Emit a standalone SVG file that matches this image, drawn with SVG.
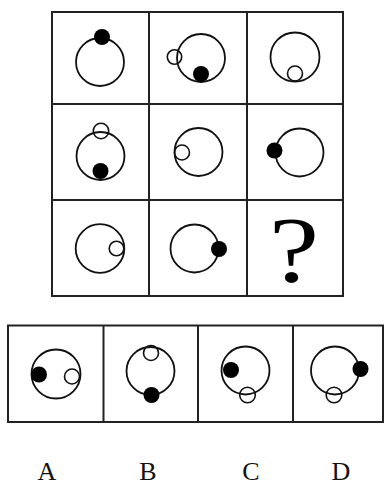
<svg xmlns="http://www.w3.org/2000/svg" width="385" height="486" viewBox="0 0 385 486">
<style>
.grid{fill:none;stroke:#222;stroke-width:2}
.big{fill:none;stroke:#111;stroke-width:1.8}
.hol{fill:none;stroke:#111;stroke-width:1.6}
.dot{fill:#000}
.lbl{font-family:"Liberation Serif",serif;font-size:26px;fill:#111;text-anchor:middle}
</style>
<rect width="385" height="486" fill="#fff"/>
<g id="grid-top" class="grid">
<rect x="52" y="12" width="291" height="284"/>
<line x1="149" y1="12" x2="149" y2="296"/>
<line x1="247" y1="12" x2="247" y2="296"/>
<line x1="52" y1="104" x2="343" y2="104"/>
<line x1="52" y1="200" x2="343" y2="200"/>
</g>
<g id="cell1"><circle class="big" cx="100" cy="62" r="24"/><circle class="dot" cx="102" cy="37" r="8"/></g>
<g id="cell2"><circle class="big" cx="201" cy="58" r="24"/><circle class="hol" cx="174.5" cy="57" r="7.2"/><circle class="dot" cx="201" cy="74" r="8"/></g>
<g id="cell3"><circle class="big" cx="295" cy="57" r="24.5"/><circle class="hol" cx="295" cy="73.5" r="7.5"/></g>
<g id="cell4"><circle class="big" cx="100.5" cy="156" r="24"/><circle class="hol" cx="101" cy="131" r="7.7"/><circle class="dot" cx="100.5" cy="171" r="8"/></g>
<g id="cell5"><circle class="big" cx="198.5" cy="152" r="24"/><circle class="hol" cx="182" cy="152.5" r="7.5"/></g>
<g id="cell6"><circle class="big" cx="299.5" cy="152.5" r="24"/><circle class="dot" cx="274.5" cy="150.5" r="8"/></g>
<g id="cell7"><circle class="big" cx="100" cy="248.5" r="24.3"/><circle class="hol" cx="116.5" cy="248.5" r="7.3"/></g>
<g id="cell8"><circle class="big" cx="194.5" cy="248.5" r="24"/><circle class="dot" cx="219" cy="249" r="8"/></g>
<g id="cell9"><text transform="translate(294 281) scale(1.2 1)" font-family="Liberation Serif, serif" font-size="94" text-anchor="middle" fill="#000">?</text></g>
<g id="grid-options" class="grid">
<rect x="8" y="325.5" width="375" height="96.5"/>
<line x1="103.5" y1="325.5" x2="103.5" y2="422"/>
<line x1="198" y1="325.5" x2="198" y2="422"/>
<line x1="293" y1="325.5" x2="293" y2="422"/>
</g>
<g id="optA"><circle class="big" cx="56" cy="374" r="24.5"/><circle class="dot" cx="39" cy="374.5" r="8"/><circle class="hol" cx="72" cy="376.5" r="7.5"/></g>
<g id="optB"><circle class="big" cx="150.5" cy="371" r="24"/><circle class="hol" cx="151" cy="353" r="7.5"/><circle class="dot" cx="151.5" cy="395" r="8"/></g>
<g id="optC"><circle class="big" cx="245.5" cy="370.5" r="24"/><circle class="dot" cx="231" cy="370" r="8"/><circle class="hol" cx="247.5" cy="395" r="7.8"/></g>
<g id="optD"><circle class="big" cx="335" cy="370.5" r="24"/><circle class="dot" cx="360.5" cy="369" r="8"/><circle class="hol" cx="334" cy="395" r="7.8"/></g>
<g id="labels">
<text class="lbl" x="47" y="480">A</text>
<text class="lbl" x="148" y="480">B</text>
<text class="lbl" x="251" y="480">C</text>
<text class="lbl" x="341" y="480">D</text>
</g>
</svg>
